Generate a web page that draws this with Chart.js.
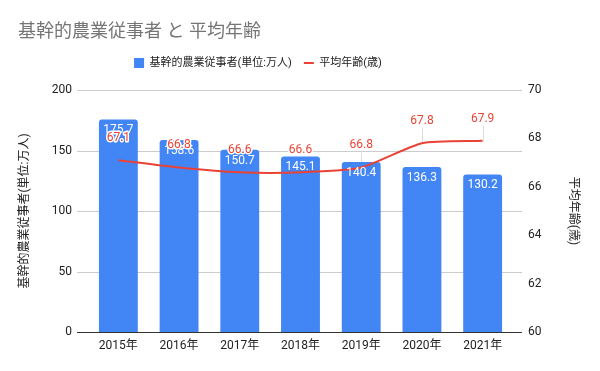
<!DOCTYPE html>
<html><head><meta charset="utf-8">
<script src="https://cdn.jsdelivr.net/npm/chart.js@4.4.0/dist/chart.umd.min.js"></script>
<style>html,body{margin:0;padding:0;background:#fff}#wrap{width:600px;height:371px}</style>
</head><body><div id="wrap"><canvas id="c" width="600" height="371"></canvas></div>
<script>
const chartTitle = '基幹的農業従事者 と 平均年齢';
const years = ['2015年','2016年','2017年','2018年','2019年','2020年','2021年'];
const farmers = [175.7, 158.6, 150.7, 145.1, 140.4, 136.3, 130.2];
const avgAge = [67.1, 66.8, 66.6, 66.6, 66.8, 67.8, 67.9];
const farmersLabel = '基幹的農業従事者(単位:万人)';
const ageLabel = '平均年齢(歳)';
const leftAxis = {min: 0, max: 200, step: 50};
const rightAxis = {min: 60, max: 70, step: 2};

const FONT = "Roboto, 'Noto Sans CJK JP', sans-serif";
Chart.defaults.font.family = FONT;
Chart.defaults.color = '#222';

const gridPlugin = {
  id: 'gridPlugin',
  beforeDatasetsDraw(chart) {
    const {ctx, chartArea, scales: {y}} = chart;
    ctx.save();
    ctx.lineWidth = 1;
    ctx.strokeStyle = '#cccccc';
    y.ticks.forEach(t => {
      if (t.value === leftAxis.min) return;
      const py = Math.round(y.getPixelForValue(t.value)) + 0.5;
      ctx.beginPath(); ctx.moveTo(chartArea.left - 11, py); ctx.lineTo(chartArea.right + 9, py); ctx.stroke();
    });
    const lm = chart.getDatasetMeta(1);
    ctx.strokeStyle = '#dddddd';
    lm.data.forEach(pt => {
      const x = Math.round(pt.x) + 0.5;
      ctx.beginPath(); ctx.moveTo(x, pt.y - 15); ctx.lineTo(x, pt.y); ctx.stroke();
    });
    ctx.restore();
  },
  afterDatasetsDraw(chart) {
    const {ctx, chartArea, scales: {y}} = chart;
    const py = Math.round(y.getPixelForValue(leftAxis.min)) + 0.5;
    ctx.save();
    ctx.strokeStyle = '#333333'; ctx.lineWidth = 1;
    ctx.beginPath(); ctx.moveTo(chartArea.left - 11, py); ctx.lineTo(chartArea.right + 9, py); ctx.stroke();
    ctx.font = '12px ' + FONT;
    ctx.textAlign = 'center';
    ctx.textBaseline = 'middle';
    const bm = chart.getDatasetMeta(0);
    ctx.fillStyle = '#ffffff';
    bm.data.forEach((bar, i) => {
      ctx.fillText(String(farmers[i]), bar.x, bar.y + 11);
    });
    const lm = chart.getDatasetMeta(1);
    lm.data.forEach((pt, i) => {
      const t = avgAge[i].toFixed(1);
      ctx.lineWidth = 3; ctx.strokeStyle = '#ffffff'; ctx.lineJoin = 'round';
      ctx.strokeText(t, pt.x, pt.y - 22);
      ctx.fillStyle = '#ea4335';
      ctx.fillText(t, pt.x, pt.y - 22);
    });
    ctx.restore();
  },
  afterLayout(chart) {
    if (chart.legend) { chart.legend.left -= 41; chart.legend.right -= 41; }
  }
};

new Chart(document.getElementById('c'), {
  data: {
    labels: years,
    datasets: [
      {
        type: 'bar', label: farmersLabel, data: farmers, yAxisID: 'y', order: 1,
        backgroundColor: '#4285f4', borderRadius: 3, borderSkipped: 'start',
        barPercentage: 0.64, categoryPercentage: 1, pointStyle: 'rect'
      },
      {
        type: 'line', label: ageLabel, data: avgAge, yAxisID: 'y1', order: 0,
        borderColor: '#ea4335', backgroundColor: '#ea4335', borderWidth: 2,
        pointRadius: 0, pointHoverRadius: 0, tension: 0.2,
        pointStyle: 'line', fill: false
      }
    ]
  },
  options: {
    responsive: false, animation: false, devicePixelRatio: 1,
    layout: {padding: {left: 18, right: 20, top: 0, bottom: 0}},
    plugins: {
      title: {
        display: true, text: chartTitle, align: 'start', color: '#757575',
        font: {size: 18, weight: 'normal', family: FONT}, padding: {top: 22, bottom: 2}
      },
      legend: {
        display: true, position: 'top', align: 'center',
        labels: {
          usePointStyle: true, pointStyleWidth: 10, boxHeight: 10, boxWidth: 10,
          padding: 12, color: '#222', font: {size: 11, family: FONT},
          sort: (a, b) => a.datasetIndex - b.datasetIndex
        }
      },
      tooltip: {enabled: false}
    },
    scales: {
      x: {
        type: 'category', position: 'bottom', offset: true,
        grid: {display: false, drawTicks: false}, border: {display: false},
        ticks: {padding: 7, font: {size: 12}, color: '#222', maxRotation: 0},
        afterFit(s) { s.height = 39; }
      },
      xTop: {
        type: 'category', axis: 'x', position: 'top', display: true,
        grid: {display: false, drawTicks: false}, border: {display: false},
        ticks: {display: false},
        afterFit(s) { s.height = 11.4; }
      },
      y: {
        type: 'linear', position: 'left', min: leftAxis.min, max: leftAxis.max,
        ticks: {stepSize: leftAxis.step, padding: 16, font: {size: 12}, color: '#222'},
        grid: {display: false, drawTicks: false}, border: {display: false},
        title: {display: true, text: farmersLabel, color: '#222', font: {size: 12}, padding: 0},
        afterFit(s) { s.width = 70; }
      },
      y1: {
        type: 'linear', position: 'right', min: rightAxis.min, max: rightAxis.max,
        ticks: {stepSize: rightAxis.step, padding: 15, font: {size: 12}, color: '#222'},
        grid: {display: false, drawTicks: false}, border: {display: false},
        title: {display: true, text: ageLabel, color: '#222', font: {size: 12}, padding: 0},
        afterFit(s) { s.width = 67; }
      }
    }
  },
  plugins: [gridPlugin]
});
</script>
</body></html>
